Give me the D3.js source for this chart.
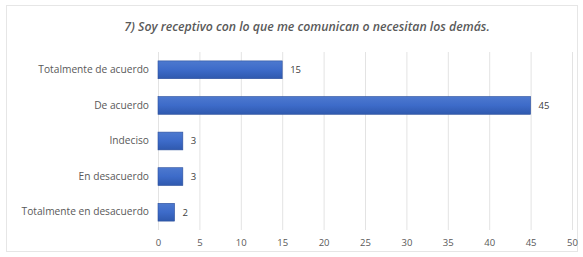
<!DOCTYPE html>
<html>
<head>
<meta charset="utf-8">
<script src="https://d3js.org/d3.v7.min.js"></script>
<style>
  body { margin: 0; background: #fff; }
  text { font-family: "Open Sans", "Noto Sans", sans-serif; }
</style>
</head>
<body>
<div id="chart"></div>
<script>
  // data
  const categories = ["Totalmente de acuerdo", "De acuerdo", "Indeciso", "En desacuerdo", "Totalmente en desacuerdo"];
  const values = [15, 45, 3, 3, 2];
  const xTicks = [0, 5, 10, 15, 20, 25, 30, 35, 40, 45, 50];
  const title = "7) Soy receptivo con lo que me comunican o necesitan los demás.";

  const width = 583, height = 257;
  const margin = { top: 52, right: 11, bottom: 27, left: 158 };

  const svg = d3.select("#chart").append("svg")
    .attr("width", width)
    .attr("height", height);

  // chart frame
  svg.append("rect")
    .attr("x", 6.5).attr("y", 5.5)
    .attr("width", 571).attr("height", 246)
    .attr("fill", "#fff")
    .attr("stroke", "#e6e6e6");

  svg.append("text")
    .attr("x", 307).attr("y", 31)
    .attr("text-anchor", "middle")
    .attr("font-size", 12.3)
    .attr("font-weight", 600)
    .attr("font-style", "italic")
    .attr("fill", "#5a5a5a")
    .text(title);

  const x = d3.scaleLinear()
    .domain([0, 50])
    .range([margin.left, width - margin.right]);

  const y = d3.scaleBand()
    .domain(categories)
    .range([margin.top, height - margin.bottom])
    .paddingInner(0.5)
    .paddingOuter(0.25);

  // vertical gridlines
  svg.append("g")
    .selectAll("line")
    .data(xTicks)
    .join("line")
    .attr("x1", d => x(d) + 0.5).attr("x2", d => x(d) + 0.5)
    .attr("y1", margin.top).attr("y2", height - margin.bottom)
    .attr("stroke", "#e3e3e3");

  // x tick labels
  const xAxis = svg.append("g")
    .attr("transform", `translate(0,${height - margin.bottom})`)
    .call(d3.axisBottom(x).tickValues(xTicks).tickSize(0).tickPadding(9));
  xAxis.select(".domain").remove();
  xAxis.selectAll("text")
    .attr("font-size", 9.5)
    .attr("fill", "#595959")
    .style("font-family", "'Open Sans', sans-serif");

  // y category labels
  const yAxis = svg.append("g")
    .attr("transform", `translate(${margin.left},0)`)
    .call(d3.axisLeft(y).tickSize(0).tickPadding(9));
  yAxis.select(".domain").remove();
  yAxis.selectAll("text")
    .attr("font-size", 10.2)
    .attr("fill", "#595959")
    .style("font-family", "'Open Sans', sans-serif");

  const grad = svg.append("defs").append("linearGradient")
    .attr("id", "barGrad")
    .attr("x1", 0).attr("y1", 0).attr("x2", 0).attr("y2", 1);
  grad.append("stop").attr("offset", "0%").attr("stop-color", "#4d79cf");
  grad.append("stop").attr("offset", "50%").attr("stop-color", "#3d6bc9");
  grad.append("stop").attr("offset", "100%").attr("stop-color", "#2f59ae");

  const rows = categories.map((c, i) => ({ cat: c, val: values[i] }));

  svg.append("g")
    .selectAll("rect")
    .data(rows)
    .join("rect")
    .attr("x", x(0))
    .attr("y", d => y(d.cat))
    .attr("width", d => x(d.val) - x(0))
    .attr("height", y.bandwidth())
    .attr("fill", "url(#barGrad)")
    .attr("stroke", "#2c4f9c")
    .attr("stroke-width", 0.6);

  // value labels
  svg.append("g")
    .selectAll("text")
    .data(rows)
    .join("text")
    .attr("x", d => x(d.val) + 8)
    .attr("y", d => y(d.cat) + y.bandwidth() / 2)
    .attr("dy", "0.35em")
    .attr("font-size", 9.5)
    .attr("fill", "#404040")
    .text(d => d.val);
</script>
</body>
</html>
